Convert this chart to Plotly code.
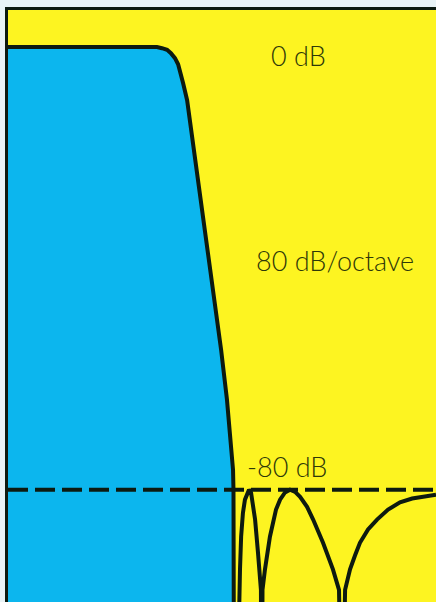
import plotly.graph_objects as go

# normalized frequency (stopband edge = 1.0) and response in dB
pass_f = [0.0, 0.30, 0.662, 0.684, 0.707, 0.724, 0.742, 0.756, 0.764, 0.778, 0.796,
          0.827, 0.858, 0.889, 0.920, 0.947, 0.973, 0.991, 1.0, 1.002, 1.004, 1.005]
pass_db = [0.0, 0.0, 0.0, -0.2, -0.5, -1.1, -2.0, -3.1, -4.2, -6.5, -9.6,
           -18.6, -27.6, -36.7, -45.7, -54.7, -63.7, -71.0, -76.4, -80.0, -100.2, -130.0]

stop_f = [1.013, 1.027, 1.031, 1.036, 1.044, 1.053, 1.067, 1.071, 1.080, 1.089,
          1.098, 1.111, 1.120, 1.124, 1.128,
          1.131, 1.142, 1.164, 1.191, 1.209, 1.231, 1.253, 1.276, 1.298, 1.329,
          1.356, 1.400, 1.444, 1.471, 1.484,
          1.498, 1.520, 1.542, 1.564, 1.600, 1.640, 1.689, 1.742, 1.796, 1.844, 1.902]
stop_db = [-130.0, -98.1, -94.4, -88.5, -84.2, -81.8, -80.4, -80.0, -80.5, -82.7,
           -85.4, -91.4, -95.3, -98.1, -130.0,
           -98.1, -94.4, -88.5, -83.6, -81.8, -80.5, -80.0, -80.4, -81.3, -83.1,
           -85.4, -89.6, -94.4, -98.1, -130.0,
           -98.1, -94.4, -91.9, -89.6, -87.2, -85.4, -83.6, -82.3, -81.6, -81.3, -80.9]

floor_db = -130.0
stop_level = -80.0

labels = ["0 dB", "80 dB/octave", "-80 dB"]
label_f = [1.289, 1.453, 1.238]
label_db = [-1.5, -38.5, -75.8]

YELLOW = "#fdf421"
BLUE = "#0cb6ee"
INK = "#0d1a10"
TEXT = "#2e3808"

fig = go.Figure()

# baseline for the blue passband fill
fig.add_trace(go.Scatter(x=pass_f, y=[floor_db] * len(pass_f), mode="lines",
                         line=dict(width=0), hoverinfo="skip", showlegend=False))
fig.add_trace(go.Scatter(x=pass_f, y=pass_db, mode="lines", fill="tonexty",
                         fillcolor=BLUE, line=dict(color=INK, width=4),
                         showlegend=False))
fig.add_trace(go.Scatter(x=stop_f, y=stop_db, mode="lines",
                         line=dict(color=INK, width=4), showlegend=False))

fig.add_hline(y=stop_level, line=dict(color=INK, width=4, dash="20px,7px"),
              layer="above")

for txt, fx, fy in zip(labels, label_f, label_db):
    fig.add_annotation(x=fx, y=fy, text=txt, showarrow=False,
                       xanchor="center", yanchor="middle",
                       font=dict(family="Lato", size=27, color=TEXT, weight=300))

fig.update_layout(
    width=436, height=602,
    margin=dict(l=8, r=0, t=10, b=0),
    paper_bgcolor="#e9f3f6",
    plot_bgcolor=YELLOW,
    xaxis=dict(range=[0, 1.902], showgrid=False, zeroline=False,
               showticklabels=False, ticks="", side="top",
               showline=True, linecolor=INK, linewidth=3),
    yaxis=dict(range=[-100.3, 6.7], showgrid=False, zeroline=False,
               showticklabels=False, ticks="",
               showline=True, linecolor=INK, linewidth=3),
)

fig.write_html("out.html", config={"displayModeBar": False},
               post_script="document.body.style.margin='0px';")
